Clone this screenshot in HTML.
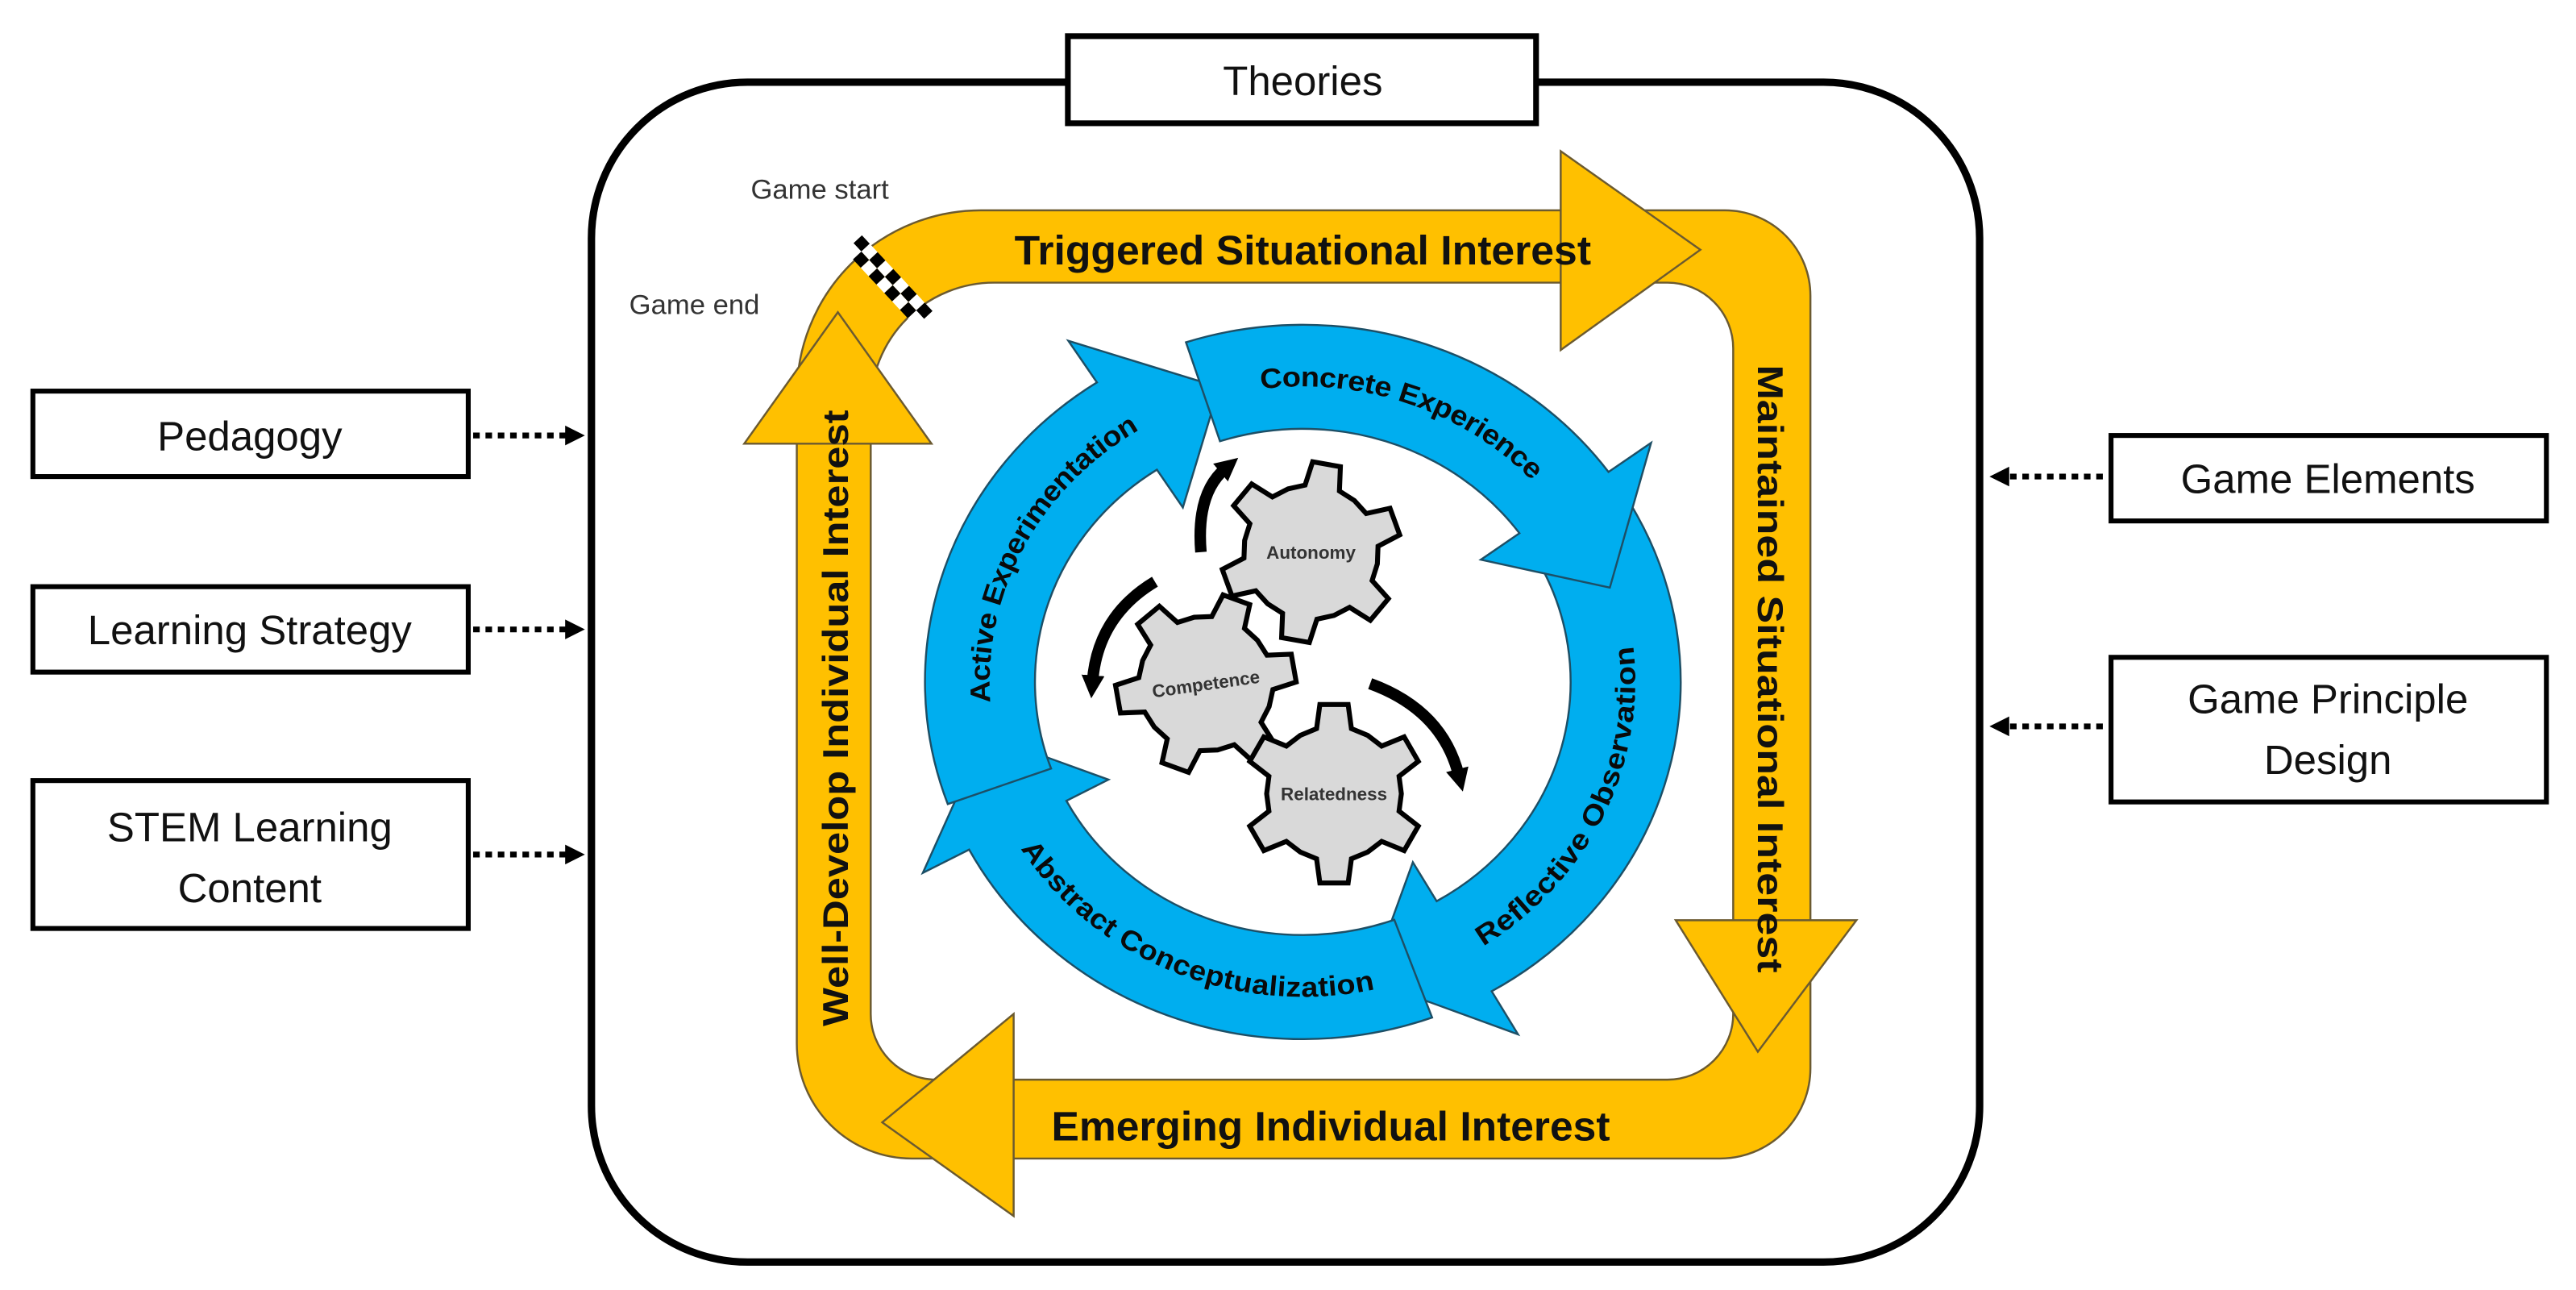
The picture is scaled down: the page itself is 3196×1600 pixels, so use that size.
<!DOCTYPE html>
<html><head><meta charset="utf-8">
<style>
html,body{margin:0;padding:0;background:#fff;}
svg{display:block;}
text{font-family:"Liberation Sans",sans-serif;}
</style></head>
<body>
<svg id="s" width="3196" height="1600" viewBox="0 0 1568 785" xmlns="http://www.w3.org/2000/svg">
<defs>
<marker id="bh" markerWidth="16" markerHeight="16" refX="4" refY="8" orient="auto" markerUnits="userSpaceOnUse">
<path d="M0,1 L14,8 L0,15 Z" fill="#000"/></marker>
<marker id="dh" markerWidth="14" markerHeight="14" refX="2" refY="7" orient="auto" markerUnits="userSpaceOnUse">
<path d="M0,1 L12,7 L0,13 Z" fill="#000"/></marker>
</defs>
<rect x="360" y="50" width="845" height="718" rx="95" ry="95" fill="#fff" stroke="#000" stroke-width="4.5"/>
<rect x="650" y="22" width="285" height="53" fill="#fff" stroke="#000" stroke-width="3.5"/>
<text x="793" y="58" font-size="25" text-anchor="middle" fill="#111">Theories</text>

<rect x="20" y="238" width="265" height="52" fill="#fff" stroke="#000" stroke-width="3"/>
<text x="152" y="274" font-size="25" text-anchor="middle" fill="#111">Pedagogy</text>
<rect x="20" y="357" width="265" height="52" fill="#fff" stroke="#000" stroke-width="3"/>
<text x="152" y="392" font-size="25" text-anchor="middle" fill="#111">Learning Strategy</text>
<rect x="20" y="475" width="265" height="90" fill="#fff" stroke="#000" stroke-width="3"/>
<text x="152" y="512" font-size="25" text-anchor="middle" fill="#111">STEM Learning</text>
<text x="152" y="549" font-size="25" text-anchor="middle" fill="#111">Content</text>
<rect x="1285" y="265" width="265" height="52" fill="#fff" stroke="#000" stroke-width="3"/>
<text x="1417" y="300" font-size="25" text-anchor="middle" fill="#111">Game Elements</text>
<rect x="1285" y="400" width="265" height="88" fill="#fff" stroke="#000" stroke-width="3"/>
<text x="1417" y="434" font-size="25" text-anchor="middle" fill="#111">Game Principle</text>
<text x="1417" y="471" font-size="25" text-anchor="middle" fill="#111">Design</text>

<g stroke="#000" stroke-width="3.5" stroke-dasharray="4 3.5" fill="none">
<line x1="288" y1="265" x2="346" y2="265" marker-end="url(#dh)"/>
<line x1="288" y1="383" x2="346" y2="383" marker-end="url(#dh)"/>
<line x1="288" y1="520" x2="346" y2="520" marker-end="url(#dh)"/>
<line x1="1280" y1="290" x2="1221" y2="290" marker-end="url(#dh)"/>
<line x1="1280" y1="442" x2="1221" y2="442" marker-end="url(#dh)"/>
</g>

<path fill="#FFC000" stroke="#6b5a30" stroke-width="1.2" fill-rule="evenodd" d="
M 597 128 H 1050 A 52 52 0 0 1 1102 180 V 650 A 55 55 0 0 1 1047 705 H 555 A 70 70 0 0 1 485 635 V 240 A 112 112 0 0 1 597 128 Z
M 605 172 H 1015 A 40 40 0 0 1 1055 212 V 617 A 40 40 0 0 1 1015 657 H 570 A 40 40 0 0 1 530 617 V 247 A 75 75 0 0 1 605 172 Z"/>
<g fill="#FFC000" stroke="#6b5a30" stroke-width="1.2">
<path d="M950,92 L1035,152 L950,213 Z"/>
<path d="M1020,560 L1130,560 L1070,640 Z"/>
<path d="M617,617 L537,683 L617,740 Z"/>
<path d="M453,270 L510,190 L567,270 Z"/>
</g>
<g id="flag" transform="translate(541,171) rotate(47)"></g>

<text x="457" y="121" font-size="17" fill="#333">Game start</text>
<text x="383" y="191" font-size="17" fill="#333">Game end</text>

<text x="793" y="161" font-size="25" font-weight="bold" text-anchor="middle" textLength="351" lengthAdjust="spacingAndGlyphs" fill="#111">Triggered Situational Interest</text>
<text x="810" y="694" font-size="25" font-weight="bold" text-anchor="middle" textLength="340" lengthAdjust="spacingAndGlyphs" fill="#111">Emerging Individual Interest</text>
<text transform="translate(1070,407) rotate(90)" font-size="22" font-weight="bold" text-anchor="middle" textLength="370" lengthAdjust="spacingAndGlyphs" fill="#111">Maintained Situational Interest</text>
<text transform="translate(516,437) rotate(-90)" font-size="22" font-weight="bold" text-anchor="middle" textLength="375" lengthAdjust="spacingAndGlyphs" fill="#111">Well-Develop Individual Interest</text>

<g id="blue"></g>
<g id="gears"></g>
<g stroke="#000" stroke-width="7" fill="none">
<path d="M731,336 Q728,300 746,285" marker-end="url(#bh)"/>
<path d="M703,354 Q668,375 665,415" marker-end="url(#bh)"/>
<path d="M834,416 Q878,432 888,472" marker-end="url(#bh)"/>
</g>
</svg>
<script>
(function(){
var NS="http://www.w3.org/2000/svg";
var cx=793,cy=415,sy=0.945,Ro=230,Ri=163;
function P(a,r){var t=a*Math.PI/180;return [(cx+r*Math.cos(t)).toFixed(1),(cy+r*sy*Math.sin(t)).toFixed(1)];}
function arrow(t0,h){
 var a=P(t0,Ro),b=P(h,Ro),c=P(h,Ro+32),d=P(h+18,(Ro+Ri)/2),e=P(h,Ri-29),f=P(h,Ri),g=P(t0,Ri);
 var large=(h-t0)>180?1:0;
 return "M"+a+" A"+Ro+" "+(Ro*sy)+" 0 "+large+" 1 "+b+" L"+c+" L"+d+" L"+e+" L"+f+" A"+Ri+" "+(Ri*sy)+" 0 "+large+" 0 "+g+" Z";
}
var blue=document.getElementById("blue");
var arrs=[[-30,60],[70,152],[160,237],[-108,-36]];
arrs.forEach(function(p){var el=document.createElementNS(NS,"path");el.setAttribute("d",arrow(p[0],p[1]));el.setAttribute("fill","#00AEEF");el.setAttribute("stroke","#1d4f66");el.setAttribute("stroke-width","1.2");blue.appendChild(el);});
function arcPath(id,a0,a1,r,cw){var p=document.createElementNS(NS,"path");var s=P(a0,r),e=P(a1,r);p.setAttribute("id",id);p.setAttribute("d","M"+s+" A"+r+" "+(r*sy)+" 0 0 "+(cw?1:0)+" "+e);p.setAttribute("fill","none");blue.appendChild(p);}
function tp(id,txt,len){var t=document.createElementNS(NS,"text");t.setAttribute("font-size","17");t.setAttribute("font-weight","bold");t.setAttribute("fill","#0a0a0a");t.setAttribute("dominant-baseline","central");var q=document.createElementNS(NS,"textPath");q.setAttribute("href","#"+id);q.setAttributeNS("http://www.w3.org/1999/xlink","xlink:href","#"+id);q.setAttribute("startOffset","50%");q.setAttribute("text-anchor","middle");q.setAttribute("textLength",len);q.setAttribute("lengthAdjust","spacingAndGlyphs");q.textContent=txt;t.appendChild(q);blue.appendChild(t);}
arcPath("pc",-115,-25,196,true);tp("pc","Concrete Experience",185);
arcPath("pa",162,252,196,true);tp("pa","Active Experimentation",205);
arcPath("pr",70,-20,197,false);tp("pr","Reflective Observation",210);
arcPath("pb",160,66,197,false);tp("pb","Abstract Conceptualization",240);
var gg=document.getElementById("gears");
function gear(x,y,rot,label,lr){
 var pts=[],R=55,r=41;
 for(var i=0;i<6;i++){var a=i*60+rot;
  [[a-30,r],[a-15,r],[a-9,R],[a+9,R],[a+15,r]].forEach(function(q){var t=q[0]*Math.PI/180;pts.push((x+q[1]*Math.cos(t)).toFixed(1)+","+(y+q[1]*Math.sin(t)).toFixed(1));});}
 var pg=document.createElementNS(NS,"polygon");pg.setAttribute("points",pts.join(" "));pg.setAttribute("fill","#d9d9d9");pg.setAttribute("stroke","#000");pg.setAttribute("stroke-width","3");gg.appendChild(pg);
 var t=document.createElementNS(NS,"text");t.setAttribute("x",x);t.setAttribute("y",y+4);t.setAttribute("font-size","11");t.setAttribute("font-weight","bold");t.setAttribute("fill","#333");t.setAttribute("text-anchor","middle");t.setAttribute("transform","rotate("+lr+" "+x+" "+y+")");t.textContent=label;gg.appendChild(t);
}
gear(798,336,-80,"Autonomy",0);
gear(734,416,-70,"Competence",-8);
gear(812,483,-90,"Relatedness",0);
var fl=document.getElementById("flag");
for(var c=0;c<9;c++)for(var r=0;r<2;r++){var re=document.createElementNS(NS,"rect");re.setAttribute("x",-31.5+c*7);re.setAttribute("y",-7+r*7);re.setAttribute("width",7);re.setAttribute("height",7);re.setAttribute("fill",(c+r)%2?"#fff":"#000");fl.appendChild(re);}
})();
</script>
</body></html>
